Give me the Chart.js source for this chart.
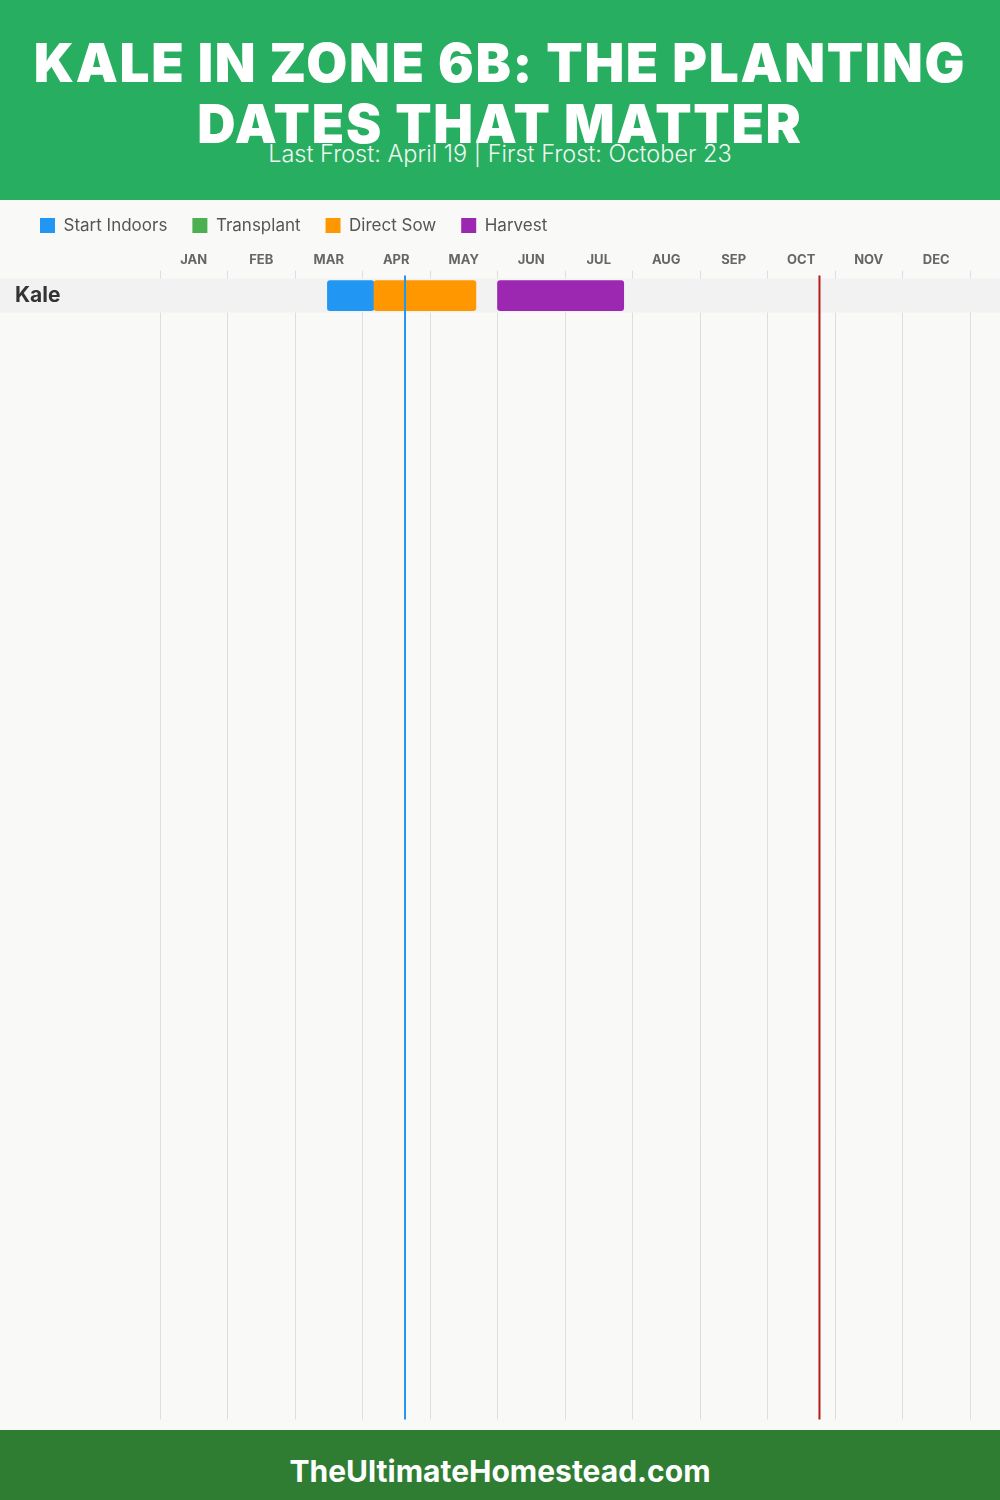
<!DOCTYPE html>
<html lang="en">
<head>
  <meta charset="UTF-8" />
  <title>Kale in Zone 6B</title>
  <style>
    /* Page layout */
    body {
      margin: 0;
      padding: 0;
      width: 1000px;
      height: 1500px;
      background-color: #f9f9f7;
      font-family: Inter, "Open Sans", sans-serif;
      position: relative;
      overflow: hidden;
    }
    header {
      position: absolute;
      top: 0;
      left: 0;
      width: 1000px;
      height: 200px;
      background-color: #28ae61;
      color: white;
      text-align: center;
    }
    header h1 {
      margin: 0;
      padding-top: 33px;
      font-size: 53px;
      font-weight: 900;
      line-height: 61px;
      letter-spacing: 1.7px;
    }
    header p {
      margin: 0;
      margin-top: -16px;
      font-size: 23.5px;
      font-weight: 300;
      color: #eef7f0;
    }
    .chart-wrap {
      position: absolute;
      top: 192px;
      left: 0;
      width: 1000px;
      height: 1243px;
    }
    footer {
      position: absolute;
      top: 1430px;
      left: 0;
      width: 1000px;
      height: 70px;
      background-color: #2e7d32;
      color: white;
      text-align: center;
      font-size: 30px;
      font-weight: 700;
      line-height: 82px;
    }
  </style>
  <script src="https://cdn.jsdelivr.net/npm/chart.js"></script>
</head>
<body>
  <header>
    <h1>KALE IN ZONE 6B: THE PLANTING<br>DATES THAT MATTER</h1>
    <p>Last Frost: April 19 | First Frost: October 23</p>
  </header>

  <div class="chart-wrap">
    <canvas id="calendar"></canvas>
  </div>

  <footer>TheUltimateHomestead.com</footer>

  <script>
    /* =========================
       Data (positions in months: 0 = Jan 1, 12 = Dec 31)
       ========================= */
    const crops = ['Kale'];
    const months = ['JAN', 'FEB', 'MAR', 'APR', 'MAY', 'JUN', 'JUL', 'AUG', 'SEP', 'OCT', 'NOV', 'DEC'];
    const startIndoors = [[2.48, 3.17]];
    const transplant = [];
    const directSow = [[3.17, 4.68]];
    const harvest = [[5.0, 6.87]];
    const lastFrost = 3.63;   // April 19
    const firstFrost = 9.77;  // October 23

    // plot area is about 1142px tall, one crop row is 34px
    const ROWS_VISIBLE = 1140 / 34;

    // turn [start, end] pairs into floating bars on row i
    function toBars(ranges) {
      return ranges.map((r, i) => ({ x: r, y: i + 0.5 }));
    }

    /* =========================
       Plugin: row band + frost lines
       ========================= */
    const calendarExtras = {
      id: 'calendarExtras',
      beforeDatasetsDraw(chart) {
        const { ctx, scales } = chart;
        ctx.save();
        ctx.fillStyle = '#f2f2f2';
        crops.forEach((c, i) => {
          const top = scales.y.getPixelForValue(i);
          const bottom = scales.y.getPixelForValue(i + 1);
          ctx.fillRect(0, top, chart.width, bottom - top);
        });
        ctx.restore();
      },
      afterDatasetsDraw(chart) {
        const { ctx, scales, chartArea } = chart;
        const lines = [
          { value: lastFrost, color: '#2196f3' },
          { value: firstFrost, color: '#b71c1c' }
        ];
        ctx.save();
        ctx.lineWidth = 2;
        lines.forEach(l => {
          const x = scales.x.getPixelForValue(l.value);
          ctx.strokeStyle = l.color;
          ctx.beginPath();
          ctx.moveTo(x, chartArea.top - 3);
          ctx.lineTo(x, chartArea.bottom);
          ctx.stroke();
        });
        ctx.restore();
      }
    };

    /* =========================
       Chart
       ========================= */
    const ctx = document.getElementById('calendar').getContext('2d');

    new Chart(ctx, {
      type: 'bar',
      data: {
        datasets: [
          { label: 'Start Indoors', data: toBars(startIndoors), backgroundColor: '#2196f3', order: 3 },
          { label: 'Transplant', data: toBars(transplant), backgroundColor: '#4caf50', order: 2 },
          { label: 'Direct Sow', data: toBars(directSow), backgroundColor: '#ff9800', order: 1 },
          { label: 'Harvest', data: toBars(harvest), backgroundColor: '#9c27b0', order: 0 }
        ]
      },
      options: {
        indexAxis: 'y',
        responsive: true,
        maintainAspectRatio: false,
        animation: false,
        layout: {
          padding: { left: 15, right: 30, top: 0, bottom: 10 }
        },
        datasets: {
          bar: {
            grouped: false,
            barThickness: 30,
            borderRadius: 3,
            borderSkipped: false
          }
        },
        plugins: {
          title: { display: false },
          tooltip: { enabled: false },
          legend: {
            position: 'top',
            align: 'start',
            labels: {
              boxWidth: 15,
              boxHeight: 15,
              padding: 25,
              color: '#555',
              font: { family: 'Inter', size: 17 },
              sort: (a, b) => a.datasetIndex - b.datasetIndex
            }
          }
        },
        scales: {
          x: {
            type: 'linear',
            position: 'top',
            min: 0,
            max: 12,
            border: { display: false },
            grid: {
              color: '#dedede',
              lineWidth: 1,
              drawTicks: true,
              tickLength: 8
            },
            afterFit: (axis) => {
              axis.height += 5;
            },
            ticks: {
              stepSize: 1,
              autoSkip: false,
              maxRotation: 0,
              padding: 0,
              labelOffset: 33.75,
              color: '#666',
              font: { family: 'Inter', size: 13, weight: 'bold', lineHeight: 1.66 },
              callback: (v) => months[v] || ''
            }
          },
          y: {
            type: 'linear',
            reverse: true,
            offset: false,
            min: 0,
            max: ROWS_VISIBLE,
            border: { display: false },
            grid: { display: false },
            afterBuildTicks: (axis) => {
              axis.ticks = crops.map((c, i) => ({ value: i + 0.5 }));
            },
            afterFit: (axis) => {
              axis.width = 145;
            },
            ticks: {
              z: 1,
              crossAlign: 'far',
              color: '#333',
              font: { family: 'Inter', size: 21, weight: 'bold' },
              callback: (v) => crops[Math.floor(v)]
            }
          }
        }
      },
      plugins: [calendarExtras]
    });
  </script>
</body>
</html>
